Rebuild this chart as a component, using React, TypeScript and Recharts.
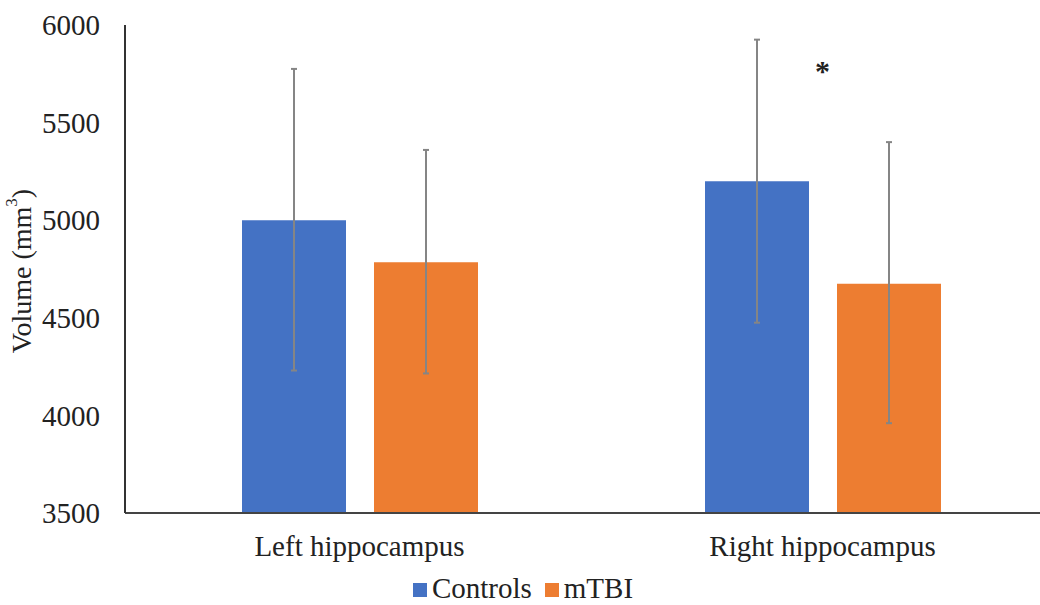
import { BarChart, Bar, XAxis, YAxis, ErrorBar, Legend, ReferenceDot } from "recharts"

const regions = ["Left hippocampus", "Right hippocampus"]
const controls = [5000, 5200]
const controlsErr = [
  [770, 775],
  [725, 725],
]
const mtbi = [4785, 4675]
const mtbiErr = [
  [570, 575],
  [715, 725],
]
const yTicks = [3500, 4000, 4500, 5000, 5500, 6000]

const data = regions.map((name, i) => ({
  name,
  Controls: controls[i],
  controlsErr: controlsErr[i],
  mTBI: mtbi[i],
  mtbiErr: mtbiErr[i],
}))

const font = "'Liberation Serif', 'Times New Roman', serif"

function YLabel({ viewBox }: any) {
  const cx = 21
  const cy = viewBox.y + viewBox.height / 2 + 2
  return (
    <text
      x={cx}
      y={cy}
      transform={`rotate(-90, ${cx}, ${cy})`}
      textAnchor="middle"
      dominantBaseline="central"
      fontFamily={font}
      fontSize={28}
      fill="#222"
    >
      Volume (mm<tspan fontSize={17} dy={-10}>3</tspan>
      <tspan dy={10}>)</tspan>
    </text>
  )
}

function LegendBox({ payload }: any) {
  return (
    <div style={{ display: "flex", justifyContent: "center", alignItems: "center", gap: 13, fontFamily: font, fontSize: 29, color: "#222", lineHeight: "30px" }}>
      {(payload || []).map((p: any) => (
        <div key={p.value} style={{ display: "flex", alignItems: "center" }}>
          <span style={{ width: 14, height: 14, background: p.color, marginRight: 5, marginTop: 4, display: "inline-block" }} />
          <span>{p.value}</span>
        </div>
      ))}
    </div>
  )
}

export default function App() {
  return (
    <div style={{ position: "absolute", left: 0, top: 0, width: 1040, height: 605, overflow: "hidden", background: "#fff" }}>
      <BarChart
        width={1054}
        height={605}
        data={data}
        margin={{ top: 25, right: 0, left: 0, bottom: 0 }}
        barCategoryGap={113}
        barGap={28}
        style={{ fontFamily: font }}
      >
        <XAxis
          dataKey="name"
          height={56}
          padding={{ left: 3, right: 0 }}
          tickLine={false}
          axisLine={{ stroke: "#444", strokeWidth: 2 }}
          tick={{ fill: "#222", fontSize: 29, fontFamily: font }}
          tickMargin={16}
        />
        <YAxis
          width={125}
          domain={[3500, 6000]}
          ticks={yTicks}
          interval={0}
          tickLine={false}
          tickSize={0}
          tickMargin={25}
          axisLine={{ stroke: "#333", strokeWidth: 2 }}
          tick={{ fill: "#222", fontSize: 29, fontFamily: font }}
          label={<YLabel />}
        />
        <Legend
          verticalAlign="bottom"
          height={36}
          content={<LegendBox />}
          wrapperStyle={{ left: 3, width: 1040, bottom: -4 }}
        />
        <Bar dataKey="Controls" fill="#4472C4" barSize={104} isAnimationActive={false}>
          <ErrorBar dataKey="controlsErr" stroke="#858585" strokeWidth={2} width={3} />
        </Bar>
        <Bar dataKey="mTBI" fill="#ED7D31" barSize={104} isAnimationActive={false}>
          <ErrorBar dataKey="mtbiErr" stroke="#858585" strokeWidth={2} width={3} />
        </Bar>
        <ReferenceDot
          x="Right hippocampus"
          y={5770}
          r={0}
          label={{ value: "*", position: "center", fontSize: 30, fontWeight: "bold", fill: "#222", fontFamily: font }}
        />
      </BarChart>
    </div>
  )
}
